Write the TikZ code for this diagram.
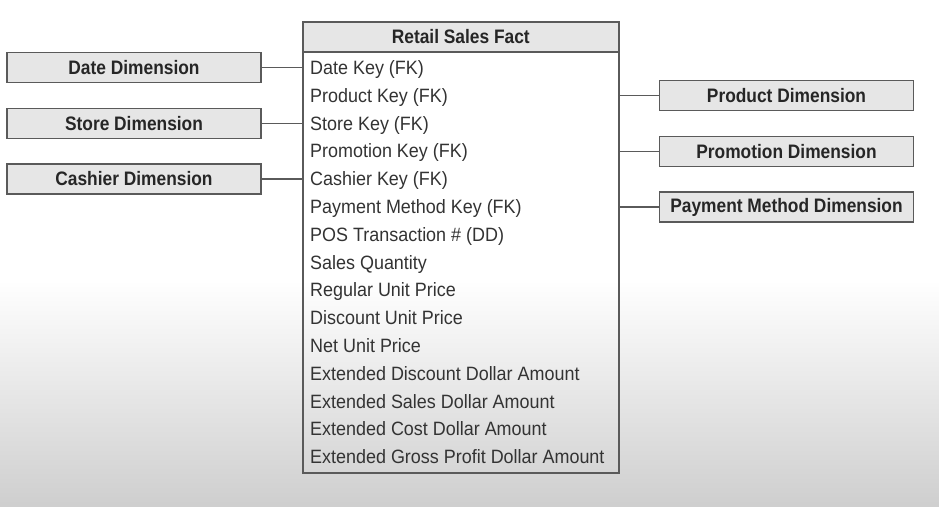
\documentclass[tikz,border=0pt]{standalone}
\usepackage{fontspec}
\setmainfont{Liberation Sans}[FakeStretch=0.93, BoldFeatures={FakeStretch=0.89}]
\usetikzlibrary{calc}
\definecolor{linec}{HTML}{5A5A5A}
\definecolor{boxfill}{HTML}{E6E6E6}
\definecolor{txt}{HTML}{333333}
\definecolor{btxt}{HTML}{262626}
\tikzset{
  dim/.style={draw=linec, line width=1.6pt, fill=boxfill, minimum width=254pt, minimum height=30pt,
    inner sep=0pt, font=\fontsize{19.5}{21}\selectfont\bfseries, text=btxt},
  row/.style={anchor=base west, inner sep=0pt, font=\fontsize{19.3}{21}\selectfont, text=txt},
  conn/.style={draw=linec, line width=1.3pt}
}
\begin{document}
\begin{tikzpicture}[x=1pt,y=-1pt]
\useasboundingbox (0,0) rectangle (939,506);
\fill[white] (0,0) rectangle (939,280);
\shade[top color=white, bottom color=black!19] (0,280) rectangle (939,506);
% fact table
\node[draw=linec, line width=1.6pt, minimum width=316pt, minimum height=451pt, anchor=north west, inner sep=0pt] (fact) at (302,21) {};
\node[draw=linec, line width=1.6pt, fill=boxfill, minimum width=316pt, minimum height=30pt, anchor=north west, inner sep=0pt,
  font=\fontsize{19.5}{21}\selectfont\bfseries, text=btxt] (hdr) at (302,21) {Retail Sales Fact};
\node[row] (r1) at (310,74.5) {Date Key (FK)};
\node[row] (r2) at (310,102.3) {Product Key (FK)};
\node[row] (r3) at (310,130.1) {Store Key (FK)};
\node[row] (r4) at (310,157.9) {Promotion Key (FK)};
\node[row] (r5) at (310,185.7) {Cashier Key (FK)};
\node[row] (r6) at (310,213.5) {Payment Method Key (FK)};
\node[row] (r7) at (310,241.3) {POS Transaction \# (DD)};
\node[row] (r8) at (310,269.1) {Sales Quantity};
\node[row] (r9) at (310,296.9) {Regular Unit Price};
\node[row] (r10) at (310,324.7) {Discount Unit Price};
\node[row] (r11) at (310,352.5) {Net Unit Price};
\node[row] (r12) at (310,380.3) {Extended Discount Dollar Amount};
\node[row] (r13) at (310,408.1) {Extended Sales Dollar Amount};
\node[row] (r14) at (310,435.9) {Extended Cost Dollar Amount};
\node[row] (r15) at (310,463.7) {Extended Gross Profit Dollar Amount};
% left dimensions
\node[dim] (date) at (134,67.5) {Date Dimension};
\node[dim] (store) at (134,123.5) {Store Dimension};
\node[dim] (cashier) at (134,179) {Cashier Dimension};
% right dimensions
\node[dim] (product) at (786.5,95.5) {Product Dimension};
\node[dim] (promo) at (786.5,151.5) {Promotion Dimension};
\node[dim] (pay) at (786.5,207) {Payment Method Dimension};
% connectors
\draw[conn] (date.east) -- (date.east -| fact.west);
\draw[conn] (store.east) -- (store.east -| fact.west);
\draw[conn] (cashier.east) -- (cashier.east -| fact.west);
\draw[conn] (product.west -| fact.east) -- (product.west);
\draw[conn] (promo.west -| fact.east) -- (promo.west);
\draw[conn] (pay.west -| fact.east) -- (pay.west);
\end{tikzpicture}
\end{document}
